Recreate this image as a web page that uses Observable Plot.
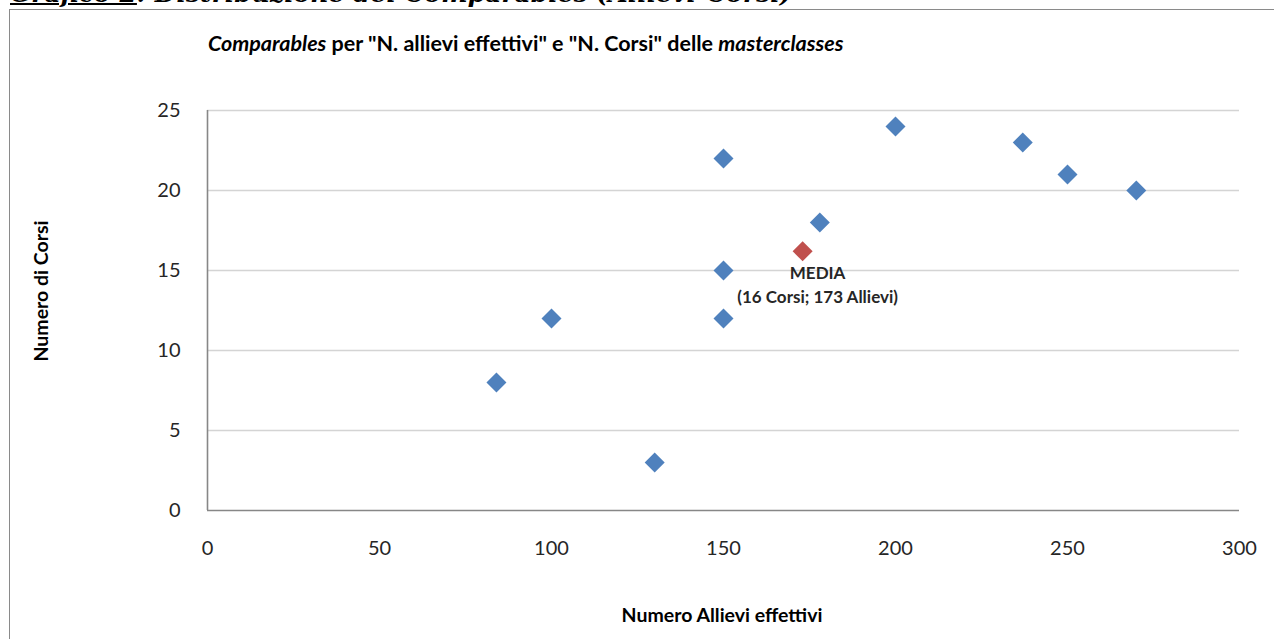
<!DOCTYPE html>
<html>
<head>
<meta charset="utf-8">
<script src="https://cdn.jsdelivr.net/npm/d3@7"></script>
<script src="https://cdn.jsdelivr.net/npm/@observablehq/plot@0.6"></script>
<style>
  html, body { margin: 0; padding: 0; background: #fff; overflow: hidden; }
  #wrap { position: relative; width: 1274px; height: 639px; overflow: hidden; font-family: Lato, "Open Sans", sans-serif; color: #000; }
  #frame { position: absolute; left: 9px; top: 9px; width: 1300px; height: 700px; border: 1.5px solid #8a8a8a; box-sizing: border-box; background: #fff; }
  #caption { position: absolute; left: 10px; top: -19px; font: bold italic 25px "DejaVu Serif", serif; white-space: nowrap; line-height: 1; }
  #caption u { text-decoration-thickness: 2px; }
  #chart { position: absolute; left: 0; top: 0; }
  #title { position: absolute; left: 208px; top: 44px; transform: translateY(-50%); font: bold 21.5px Lato, sans-serif; white-space: nowrap; line-height: 1.2; }
  #ytitle { position: absolute; left: 40px; top: 291px; transform: translate(-50%, -50%) rotate(-90deg); font: bold 19.5px Lato, sans-serif; white-space: nowrap; }
  #xtitle { position: absolute; left: 722px; top: 614px; transform: translate(-50%, -50%); font: bold 19.5px Lato, sans-serif; white-space: nowrap; }
</style>
</head>
<body>
<div id="wrap">
  <div id="frame"></div>
  <div id="caption"><u>Grafico 2</u>: Distribuzione dei Comparables (Allievi-Corsi)</div>
  <div id="chart"></div>
  <div id="title"><i>Comparables</i> per "N. allievi effettivi" e "N. Corsi" delle <i>masterclasses</i></div>
  <div id="ytitle">Numero di Corsi</div>
  <div id="xtitle">Numero Allievi effettivi</div>
</div>
<script>
// ---- data ----
const allievi = [84, 100, 130, 150, 150, 150, 178, 200, 237, 250, 270];
const corsi   = [8, 12, 3, 22, 15, 12, 18, 24, 23, 21, 20];
const mediaAllievi = 173;
const mediaCorsi = 16.2;
const mediaLabel = ["MEDIA", "(16 Corsi; 173 Allievi)"];
const xTicks = [0, 50, 100, 150, 200, 250, 300];
const yTicks = [0, 5, 10, 15, 20, 25];

const points = allievi.map((a, i) => ({allievi: a, corsi: corsi[i]}));
const media = [{allievi: mediaAllievi, corsi: mediaCorsi, label: mediaLabel.join("\n")}];

const chart = Plot.plot({
  width: 1274,
  height: 639,
  marginLeft: 207,
  marginRight: 35,
  marginTop: 110,
  marginBottom: 129,
  x: {domain: [0, 300]},
  y: {domain: [0, 25]},
  style: {fontFamily: "Lato, sans-serif", background: "transparent", color: "#262626"},
  marks: [
    Plot.gridY(yTicks.filter(d => d > 0), {stroke: "#d4d4d4", strokeOpacity: 1, strokeWidth: 1.3}),
    Plot.ruleY([0], {stroke: "#878787", strokeWidth: 1.6}),
    Plot.ruleX([0], {stroke: "#878787", strokeWidth: 1.6}),
    Plot.axisX(xTicks, {tickSize: 0, tickPadding: 30, fontSize: 20, label: null}),
    Plot.axisY(yTicks, {tickSize: 0, tickPadding: 27, fontSize: 20, label: null}),
    Plot.dot(points, {x: "allievi", y: "corsi", symbol: "diamond2", r: 9, fill: "#4F81BD", stroke: "none"}),
    Plot.dot(media, {x: "allievi", y: "corsi", symbol: "diamond2", r: 9, fill: "#C0504D", stroke: "none"}),
    Plot.text(media, {x: "allievi", y: "corsi", text: "label", lineAnchor: "top", dx: 15, dy: 11,
      fontSize: 17, fontWeight: "bold", lineHeight: 1.4, fill: "#262626"})
  ]
});
document.getElementById("chart").appendChild(chart);
</script>
</body>
</html>
